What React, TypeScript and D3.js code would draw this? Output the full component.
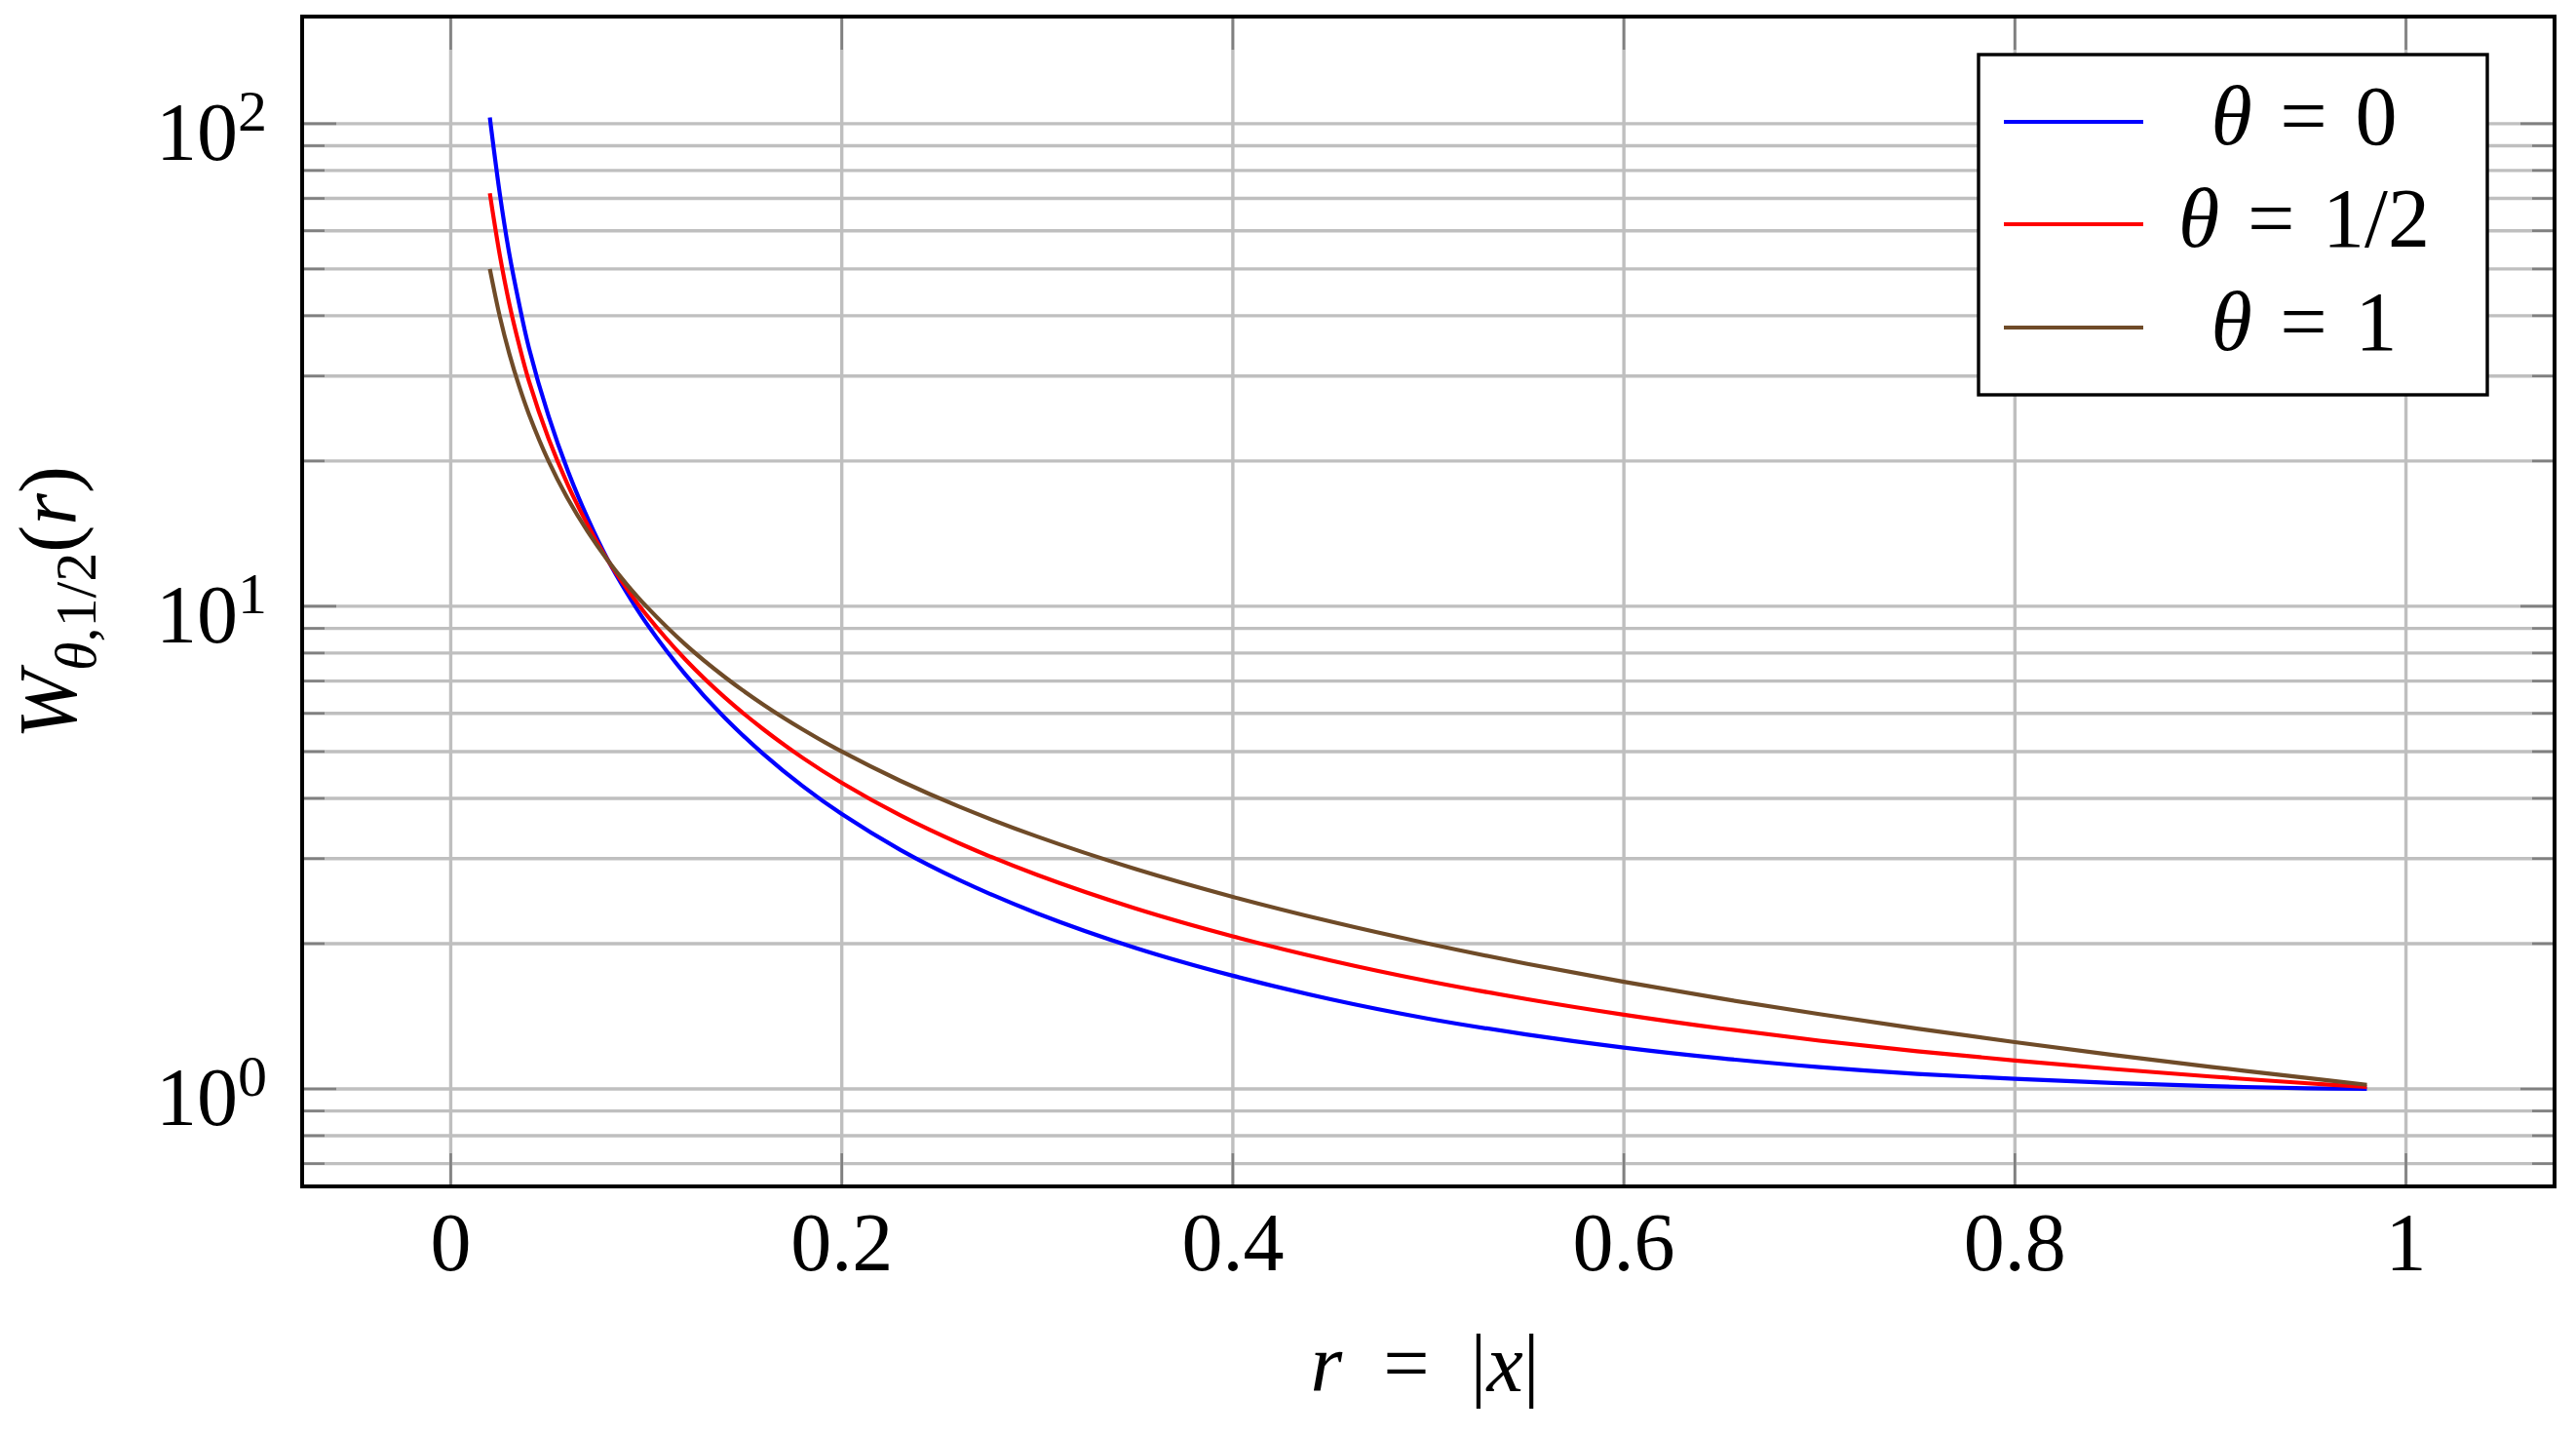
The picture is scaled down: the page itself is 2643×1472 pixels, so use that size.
import React from "react";
import * as d3 from "d3";

// r = |x| sample positions
const R_VALUES = [0.02, 0.025, 0.03, 0.035, 0.04, 0.05, 0.06, 0.07, 0.08, 0.09, 0.1, 0.12, 0.14, 0.16, 0.18, 0.2, 0.23, 0.26, 0.3, 0.35, 0.4, 0.45, 0.5, 0.55, 0.6, 0.65, 0.7, 0.75, 0.8, 0.85, 0.9, 0.95, 0.98];

// W_{theta,1/2}(r)
const W_THETA_0 = [103, 72, 53.6, 42.3, 34.3, 24.8, 19.04, 15.23, 12.55, 10.67, 9.23, 7.22, 5.88, 4.94, 4.24, 3.71, 3.127, 2.71, 2.31, 1.961, 1.716, 1.534, 1.398, 1.297, 1.218, 1.157, 1.11, 1.0745, 1.049, 1.0285, 1.0134, 1.003, 1.0];
const W_THETA_HALF = [71.76, 53.67, 42.27, 34.76, 29.28, 22.27, 17.81, 14.75, 12.52, 10.89, 9.607, 7.757, 6.481, 5.557, 4.853, 4.307, 3.687, 3.229, 2.775, 2.367, 2.071, 1.846, 1.672, 1.536, 1.425, 1.334, 1.259, 1.197, 1.145, 1.1, 1.061, 1.027, 1.01];
const W_THETA_1 = [50, 40, 33.33, 28.57, 25, 20, 16.67, 14.29, 12.5, 11.11, 10, 8.333, 7.143, 6.25, 5.556, 5, 4.348, 3.846, 3.333, 2.857, 2.5, 2.222, 2, 1.818, 1.667, 1.538, 1.429, 1.333, 1.25, 1.176, 1.111, 1.053, 1.02];

const SERIES_LABELS = ["0", "1/2", "1"];
const SERIES_COLORS = ["#0000ff", "#ff0000", "#6f4b28"];

const X_TICKS = [0, 0.2, 0.4, 0.6, 0.8, 1];
const X_TICK_LABELS = ["0", "0.2", "0.4", "0.6", "0.8", "1"];
const Y_MAJOR = [1, 10, 100];
const Y_MAJOR_EXP = ["0", "1", "2"];
const Y_MINOR = [0.7, 0.8, 0.9, 2, 3, 4, 5, 6, 7, 8, 9, 20, 30, 40, 50, 60, 70, 80, 90];

const X_DOMAIN = [-0.076, 1.076];
const Y_DOMAIN = [0.628, 166.7];

const W = 2643;
const H = 1472;
const LEFT = 310;
const RIGHT = 2621;
const TOP = 17;
const BOTTOM = 1217;

const FONT = "'Liberation Serif', 'DejaVu Serif', serif";
const GRID = "#bfbfbf";
const TICK = "#808080";

export default function App() {
  const x = d3.scaleLinear().domain(X_DOMAIN).range([LEFT, RIGHT]);
  const y = d3.scaleLog().domain(Y_DOMAIN).range([BOTTOM, TOP]);

  const series = [W_THETA_0, W_THETA_HALF, W_THETA_1];
  const line = d3
    .line<[number, number]>()
    .x((d) => x(d[0]))
    .y((d) => y(d[1]))
    .curve(d3.curveCatmullRom.alpha(0.5));

  const legendX = 2030;
  const legendY = 56;
  const legendW = 522;
  const legendH = 349;
  const legendRowY = [125, 230, 336];

  return (
    <svg
      width={W}
      height={H}
      style={{ position: "absolute", left: 0, top: 0, background: "white" }}
      fontFamily={FONT}
    >
      <rect x={0} y={0} width={W} height={H} fill="white" />

      {/* grid */}
      <g stroke={GRID} strokeWidth={3.4}>
        {Y_MINOR.concat(Y_MAJOR).map((v, i) => (
          <line key={"gy" + i} x1={LEFT} x2={RIGHT} y1={y(v)} y2={y(v)} />
        ))}
        {X_TICKS.map((v, i) => (
          <line key={"gx" + i} x1={x(v)} x2={x(v)} y1={TOP} y2={BOTTOM} />
        ))}
      </g>

      {/* ticks */}
      <g stroke={TICK} strokeWidth={2.6}>
        {Y_MAJOR.map((v, i) => (
          <g key={"ty" + i}>
            <line x1={LEFT} x2={LEFT + 35} y1={y(v)} y2={y(v)} />
            <line x1={RIGHT - 35} x2={RIGHT} y1={y(v)} y2={y(v)} />
          </g>
        ))}
        {Y_MINOR.map((v, i) => (
          <g key={"tym" + i}>
            <line x1={LEFT} x2={LEFT + 23} y1={y(v)} y2={y(v)} />
            <line x1={RIGHT - 23} x2={RIGHT} y1={y(v)} y2={y(v)} />
          </g>
        ))}
        {X_TICKS.map((v, i) => (
          <g key={"tx" + i}>
            <line x1={x(v)} x2={x(v)} y1={BOTTOM} y2={BOTTOM - 34} />
            <line x1={x(v)} x2={x(v)} y1={TOP} y2={TOP + 34} />
          </g>
        ))}
      </g>

      {/* curves */}
      {series.map((vals, si) => (
        <path
          key={"s" + si}
          d={line(R_VALUES.map((r, i) => [r, vals[i]] as [number, number])) || ""}
          fill="none"
          stroke={SERIES_COLORS[si]}
          strokeWidth={4.2}
          strokeLinejoin="round"
        />
      ))}

      {/* frame */}
      <rect
        x={LEFT}
        y={TOP}
        width={RIGHT - LEFT}
        height={BOTTOM - TOP}
        fill="none"
        stroke="black"
        strokeWidth={4}
      />

      {/* x tick labels */}
      {X_TICKS.map((v, i) => (
        <text key={"xl" + i} x={x(v)} y={1303} fontSize={84} textAnchor="middle" fill="black">
          {X_TICK_LABELS[i]}
        </text>
      ))}

      {/* y tick labels */}
      {Y_MAJOR.map((v, i) => (
        <text key={"yl" + i} x={274} y={y(v) + 37} fontSize={84} textAnchor="end" fill="black">
          <tspan>10</tspan>
          <tspan fontSize={60} dy={-30}>
            {Y_MAJOR_EXP[i]}
          </tspan>
        </text>
      ))}

      {/* x axis label */}
      <text x={1462} y={1427} fontSize={84} textAnchor="middle" fill="black">
        <tspan fontStyle="italic">r</tspan>
        <tspan>{"\u2002=\u2002|"}</tspan>
        <tspan fontStyle="italic">x</tspan>
        <tspan>|</tspan>
      </text>

      {/* y axis label */}
      <text
        transform="translate(78,618) rotate(-90)"
        fontSize={84}
        textAnchor="middle"
        fill="black"
      >
        <tspan fontStyle="italic">W</tspan>
        <tspan fontSize={60} dy={20} fontStyle="italic">
          θ
        </tspan>
        <tspan fontSize={60}>,1/2</tspan>
        <tspan dy={-20}>(</tspan>
        <tspan fontStyle="italic">r</tspan>
        <tspan>)</tspan>
      </text>

      {/* legend */}
      <rect
        x={legendX}
        y={legendY}
        width={legendW}
        height={legendH}
        fill="white"
        stroke="black"
        strokeWidth={3.4}
      />
      {SERIES_LABELS.map((lab, i) => (
        <g key={"lg" + i}>
          <line
            x1={2056}
            x2={2199}
            y1={legendRowY[i]}
            y2={legendRowY[i]}
            stroke={SERIES_COLORS[i]}
            strokeWidth={4.2}
          />
          <text x={2364} y={legendRowY[i] + 23} fontSize={86} textAnchor="middle" fill="black">
            <tspan fontStyle="italic">θ</tspan>
            <tspan>{"\u2004=\u2004" + lab}</tspan>
          </text>
        </g>
      ))}
    </svg>
  );
}
